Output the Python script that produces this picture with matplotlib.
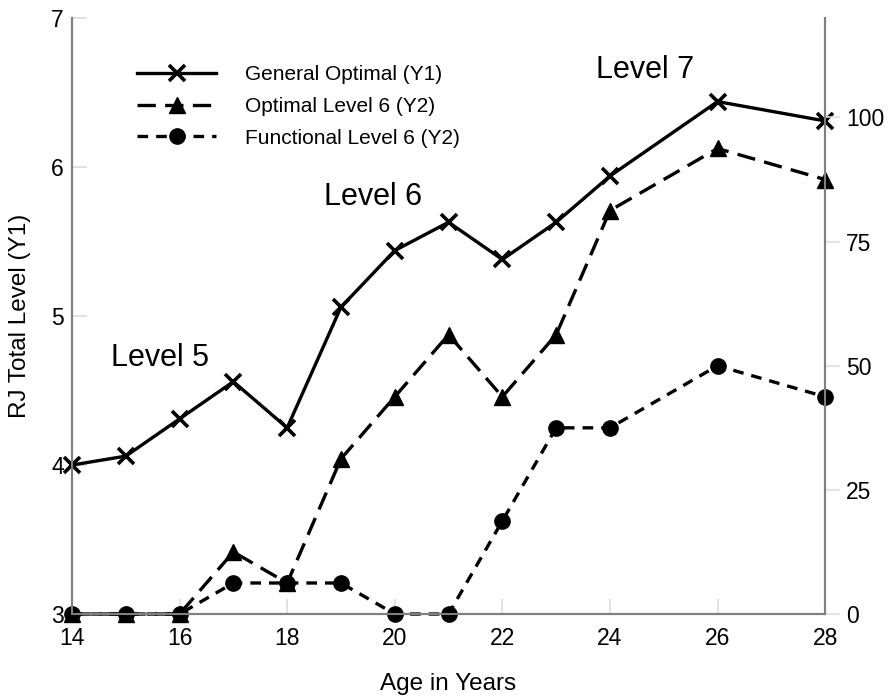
import numpy as np
import matplotlib.pyplot as plt

plt.rcParams['font.family'] = ['Liberation Sans', 'DejaVu Sans']

# data
age = [14, 15, 16, 17, 18, 19, 20, 21, 22, 23, 24, 26, 28]
general_optimal = [4.0, 4.06, 4.31, 4.56, 4.25, 5.06, 5.44, 5.63, 5.38, 5.63, 5.94, 6.44, 6.31]
optimal_l6 = [0, 0, 0, 12.5, 6.25, 31.25, 43.75, 56.25, 43.75, 56.25, 81.25, 93.75, 87.5]
functional_l6 = [0, 0, 0, 6.25, 6.25, 6.25, 0, 0, 18.75, 37.5, 37.5, 50, 43.75]

x_ticks = [14, 16, 18, 20, 22, 24, 26, 28]
y1_ticks = [3, 4, 5, 6, 7]
y2_ticks = [0, 25, 50, 75, 100]

fig = plt.figure(figsize=(8.93, 6.98), dpi=100)
ax = fig.add_axes([0.0806, 0.1203, 0.8434, 0.8537])
ax2 = ax.twinx()

l1, = ax.plot(age, general_optimal, color='black', lw=2.4, linestyle='-',
              marker='x', markersize=11, markeredgewidth=2.6, clip_on=False,
              label='General Optimal (Y1)')
l2, = ax2.plot(age, optimal_l6, color='black', lw=2.4, linestyle=(0, (5.5, 2.8)),
               marker='^', markersize=11, clip_on=False,
               label='Optimal Level 6 (Y2)')
l3, = ax2.plot(age, functional_l6, color='black', lw=2.4, linestyle=(0, (3.2, 2.4)),
               marker='o', markersize=11, clip_on=False,
               label='Functional Level 6 (Y2)')

ax.set_xlim(14, 28)
ax.set_ylim(3, 7)
ax2.set_ylim(0, 120)
ax.set_xticks(x_ticks)
ax.set_yticks(y1_ticks)
ax2.set_yticks(y2_ticks)

for a in (ax, ax2):
    a.spines['top'].set_visible(False)
    for s in ('left', 'right', 'bottom'):
        a.spines[s].set_color('#808080')
        a.spines[s].set_linewidth(1.5)

ax.tick_params(axis='x', direction='in', length=11, width=1.2, color='#dddddd',
               labelsize=16.5, pad=9)
ax.tick_params(axis='y', direction='in', length=11, width=1.2, color='#dddddd',
               labelsize=16.5, pad=6)
ax2.tick_params(axis='y', direction='out', length=11, width=1.2, color='#dddddd',
                labelsize=16.5, pad=4)

ax.set_xlabel('Age in Years', fontsize=17.5, labelpad=17)
ax.set_ylabel('RJ Total Level (Y1)', fontsize=17.5, labelpad=14)

ax.text(15.64, 4.72, 'Level 5', fontsize=22, ha='center', va='center')
ax.text(19.6, 5.8, 'Level 6', fontsize=22, ha='center', va='center')
ax.text(24.65, 6.65, 'Level 7', fontsize=22, ha='center', va='center')

fig.legend(handles=[l1, l2, l3], loc='upper left', bbox_to_anchor=(0.1534, 0.907),
           frameon=False, fontsize=15, handlelength=3.8, handletextpad=1.4,
           labelspacing=0.62, borderpad=0, borderaxespad=0, markerscale=1.0)

fig.savefig('out.png', dpi=100)
